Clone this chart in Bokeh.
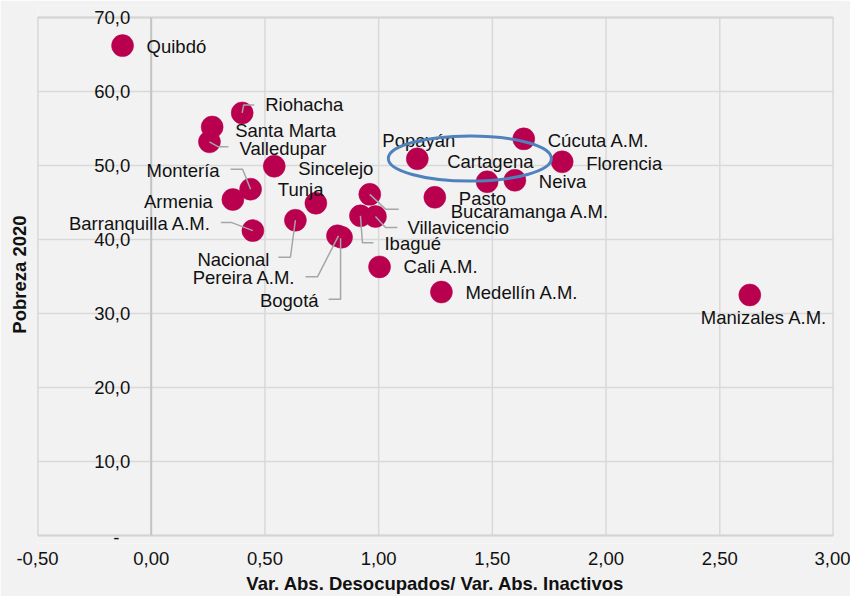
from bokeh.plotting import figure
from bokeh.models import ColumnDataSource, FixedTicker, Range1d
from bokeh.core.properties import value
from bokeh.embed import file_html
from bokeh.resources import INLINE

# ---------------- data ----------------
cities = ["Quibdó", "Riohacha", "Santa Marta", "Valledupar", "Sincelejo", "Montería",
          "Armenia", "Tunja", "Barranquilla A.M.", "Nacional", "Pereira A.M.", "Bogotá",
          "Bucaramanga A.M.", "Villavicencio", "Ibagué", "Pasto", "Cali A.M.",
          "Medellín A.M.", "Popayán", "Cartagena", "Neiva", "Cúcuta A.M.", "Florencia",
          "Manizales A.M."]
ratio = [-0.126, 0.400, 0.268, 0.256, 0.541, 0.437,
         0.359, 0.724, 0.447, 0.634, 0.819, 0.837,
         0.961, 0.986, 0.920, 1.247, 1.004,
         1.276, 1.170, 1.477, 1.599, 1.638, 1.807,
         2.632]
poverty = [66.2, 57.1, 55.2, 53.2, 49.9, 46.8,
           45.4, 44.9, 41.2, 42.6, 40.5, 40.3,
           46.1, 43.1, 43.2, 45.7, 36.3,
           32.9, 50.9, 47.8, 48.0, 53.6, 50.5,
           32.5]

x_ticks = [-0.5, 0.0, 0.5, 1.0, 1.5, 2.0, 2.5, 3.0]
x_tick_labels = ["-0,50", "0,00", "0,50", "1,00", "1,50", "2,00", "2,50", "3,00"]
y_ticks = [0, 10, 20, 30, 40, 50, 60, 70]
y_tick_labels = ["-", "10,0", "20,0", "30,0", "40,0", "50,0", "60,0", "70,0"]

x_title = "Var. Abs. Desocupados/ Var. Abs. Inactivos"
y_title = "Pobreza 2020"

# highlighted group (Cartagena) : ellipse centre / size in data units
highlight_center = (1.401, 50.95)
highlight_size = (0.717, 6.1)

# ---------------- layout / style ----------------
X0, X1, Y0, Y1 = -0.5, 3.0, 0, 70          # plot-area extent
PLOT_W, PLOT_H = 796, 518                    # plot-area size in px
PX_X = PLOT_W / (X1 - X0)
PX_Y = PLOT_H / (Y1 - Y0)
PAD_TOP, PAD_BOTTOM = 12, 8                  # extra frame room so edge labels are not clipped

FONT = "Liberation Sans"
FS = "18.5px"
TXT = "#111111"
BG = "#f2f2f2"
MARK = "#b8004f"
GRID = "#d9d9d9"

# label placement (pixels from the point), alignment
label_place = {
    "Quibdó": (24, 1, "left"), "Riohacha": (23, -8, "left"), "Santa Marta": (23, 3, "left"),
    "Valledupar": (30, 7, "left"), "Sincelejo": (24, 2, "left"), "Montería": (-31, -19, "right"),
    "Armenia": (-20, 2, "right"), "Tunja": (-38, -14, "left"), "Barranquilla A.M.": (-42, -7, "right"),
    "Nacional": (-26, 39, "right"), "Pereira A.M.": (-42, 42, "right"), "Bogotá": (-23, 63, "right"),
    "Bucaramanga A.M.": (81, 17, "left"), "Villavicencio": (32, 11, "left"), "Ibagué": (24, 28, "left"),
    "Pasto": (24, 1, "left"), "Cali A.M.": (24, 0, "left"), "Medellín A.M.": (24, 0, "left"),
    "Popayán": (-35, -18, "left"), "Cartagena": (-40, -20, "left"), "Neiva": (24, 1, "left"),
    "Cúcuta A.M.": (24, 2, "left"), "Florencia": (24, 2, "left"), "Manizales A.M.": (-49, 22, "left"),
}
# leader lines, pixel offsets from the point
leaders = {
    "Riohacha": [(0, 0), (1.5, -8), (12, -8)],
    "Valledupar": [(0, 0), (9, 5), (19, 5)],
    "Montería": [(0, 0), (-8, -20), (-20, -20)],
    "Barranquilla A.M.": [(0, 0), (-21, -8), (-32, -8)],
    "Nacional": [(0, 0), (-5, 37), (-17, 37)],
    "Pereira A.M.": [(1, 0), (-20, 41), (-32, 41)],
    "Bogotá": [(-1, 1), (-1, 62), (-13, 62)],
    "Bucaramanga A.M.": [(0, 0), (16, 15), (29, 15)],
    "Villavicencio": [(0, 0), (10, 11), (22, 11)],
    "Ibagué": [(0, 0), (2, 27), (13, 27)],
}

p = figure(frame_width=PLOT_W, frame_height=PLOT_H + PAD_TOP + PAD_BOTTOM,
           x_range=Range1d(X0, X1),
           y_range=Range1d(Y0 - PAD_BOTTOM / PX_Y, Y1 + PAD_TOP / PX_Y),
           output_backend="svg", toolbar_location=None,
           min_border_left=37, min_border_top=17 - PAD_TOP, min_border_right=17,
           min_border_bottom=49)
p.background_fill_color = BG
p.border_fill_color = BG
p.outline_line_color = None
p.xgrid.grid_line_color = None
p.ygrid.grid_line_color = None

# gridlines and plot-area border
p.segment(x0=x_ticks, y0=[Y0] * len(x_ticks), x1=x_ticks, y1=[Y1] * len(x_ticks),
          line_color=GRID, line_width=1.5)
p.segment(x0=[X0] * len(y_ticks), y0=y_ticks, x1=[X1] * len(y_ticks), y1=y_ticks,
          line_color=GRID, line_width=1.5)
p.quad(left=[X0], right=[X1], bottom=[Y0], top=[Y1], fill_color=None,
       line_color="#d4d4d4", line_width=2)
# vertical axis line at x = 0
p.segment(x0=[0], y0=[Y0], x1=[0], y1=[Y1], line_color="#c4c4c4", line_width=2)

# x axis
xa = p.xaxis[0]
xa.ticker = FixedTicker(ticks=x_ticks)
xa.major_label_overrides = {t: l for t, l in zip(x_ticks, x_tick_labels)}
xa.axis_line_color = None
xa.major_tick_line_color = None
xa.minor_tick_line_color = None
xa.major_tick_out = 0
xa.major_tick_in = 0
xa.major_label_standoff = 16 - PAD_BOTTOM
xa.major_label_text_font = FONT
xa.major_label_text_font_size = FS
xa.major_label_text_color = TXT
xa.axis_label = x_title
xa.axis_label_text_font = FONT
xa.axis_label_text_font_size = FS
xa.axis_label_text_font_style = "bold"
xa.axis_label_text_color = TXT
xa.axis_label_standoff = 5

# y axis at the left edge: only the title
ya = p.yaxis[0]
ya.ticker = FixedTicker(ticks=[])
ya.axis_line_color = None
ya.major_tick_line_color = None
ya.minor_tick_line_color = None
ya.major_tick_out = 0
ya.major_tick_in = 0
ya.axis_label = y_title
ya.axis_label_text_font = FONT
ya.axis_label_text_font_size = FS
ya.axis_label_text_font_style = "bold"
ya.axis_label_text_color = TXT
ya.axis_label_standoff = 8

# y tick labels beside the x = 0 axis line
p.text(x=[0] * (len(y_ticks) - 1), y=y_ticks[1:], text=y_tick_labels[1:], x_offset=-21,
       text_align="right", text_baseline="middle", text_font=value(FONT),
       text_font_size=FS, text_color=TXT)
p.text(x=[0], y=y_ticks[:1], text=y_tick_labels[:1], x_offset=-35, y_offset=2,
       text_align="center", text_baseline="middle", text_font=value(FONT),
       text_font_size=FS, text_color=TXT)

# points
src = ColumnDataSource(dict(x=ratio, y=poverty, city=cities))
p.scatter("x", "y", source=src, size=22, fill_color=MARK, line_color=MARK, line_width=0.5)

# leader lines
xs, ys = [], []
for c, path in leaders.items():
    i = cities.index(c)
    xs.append([ratio[i] + dx / PX_X for dx, dy in path])
    ys.append([poverty[i] - dy / PX_Y for dx, dy in path])
p.multi_line(xs, ys, line_color="#a6a6a6", line_width=1.5)

# labels
for align in ("left", "right"):
    sel = [i for i, c in enumerate(cities) if label_place[c][2] == align]
    s = ColumnDataSource(dict(
        x=[ratio[i] for i in sel], y=[poverty[i] for i in sel], t=[cities[i] for i in sel],
        dx=[label_place[cities[i]][0] for i in sel], dy=[label_place[cities[i]][1] for i in sel]))
    p.text("x", "y", text="t", x_offset="dx", y_offset="dy", source=s, text_align=align,
           text_baseline="middle", text_font=value(FONT), text_font_size=FS, text_color=TXT)

# highlight ellipse
p.ellipse(x=[highlight_center[0]], y=[highlight_center[1]],
          width=highlight_size[0], height=highlight_size[1],
          fill_color=None, line_color="#4f81bd", line_width=3)

open("out.html", "w").write(file_html(p, INLINE))
